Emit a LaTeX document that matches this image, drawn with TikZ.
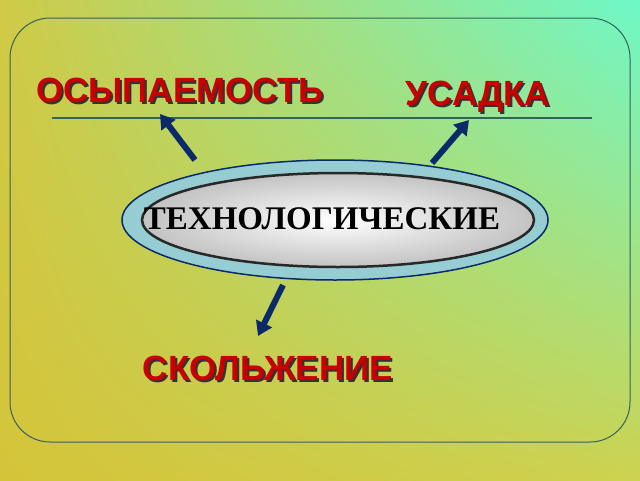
\documentclass[tikz,border=0pt]{standalone}
\usepackage{fontspec}
\setmainfont{Liberation Serif}
\newfontfamily\lsans{Liberation Sans}
\usetikzlibrary{arrows.meta,shadings,shapes.geometric}
\definecolor{navy}{HTML}{0A2A6A}
\definecolor{lred}{HTML}{C80000}
\definecolor{bgul}{RGB}{208,202,70}
\definecolor{bgur}{RGB}{110,248,200}
\definecolor{bgll}{RGB}{212,196,58}
\definecolor{bglr}{RGB}{205,210,80}
\definecolor{frame}{RGB}{50,100,90}
\definecolor{ring}{RGB}{150,205,210}
\definecolor{innergray}{RGB}{195,195,195}
\definecolor{innerdark}{RGB}{40,40,40}
\begin{document}
\begin{tikzpicture}[x=1pt,y=-1pt,
 lab/.style={font=\lsans\bfseries\fontsize{35}{38}\selectfont,text=lred},
 arr/.style={navy,line width=6pt,-{Triangle[length=14pt,width=17pt]}}]
\useasboundingbox (0,0) rectangle (640,480);
\shade[upper left=bgul,upper right=bgur,lower left=bgll,lower right=bglr] (0,0) rectangle (640,480);
\draw[frame,line width=1pt,rounded corners=40pt] (10,18) rectangle (630,442);
\draw[frame,line width=1.5pt] (52,118) -- (592,118);
\node[ellipse,draw=navy,line width=1.5pt,fill=ring,minimum width=426pt,minimum height=120pt] (outer) at (335,220) {};
\node[ellipse,draw=innerdark,line width=2.5pt,inner color=white,outer color=innergray,minimum width=392pt,minimum height=94pt] (inner) at (338,220) {};
\node[font=\bfseries\fontsize{33}{35}\selectfont] (t) at (322,219) {ТЕХНОЛОГИЧЕСКИЕ};
\foreach \n/\x/\y/\s in {a/180/90/ОСЫПАЕМОСТЬ,b/478/97/УСАДКА,c/268/368/СКОЛЬЖЕНИЕ}{
 \node[lab,text=black!80] at (\x+2,\y+2) {\s};
 \node[lab] (\n) at (\x,\y) {\s};}
\coordinate (a1) at (195,160); \coordinate (a2) at (160,114);
\coordinate (b1) at (432,163); \coordinate (b2) at (469,120);
\coordinate (c1) at (283,285); \coordinate (c2) at (258,336);
\draw[arr] (a1) -- (a2);
\draw[arr] (b1) -- (b2);
\draw[arr] (c1) -- (c2);
\end{tikzpicture}
\end{document}
